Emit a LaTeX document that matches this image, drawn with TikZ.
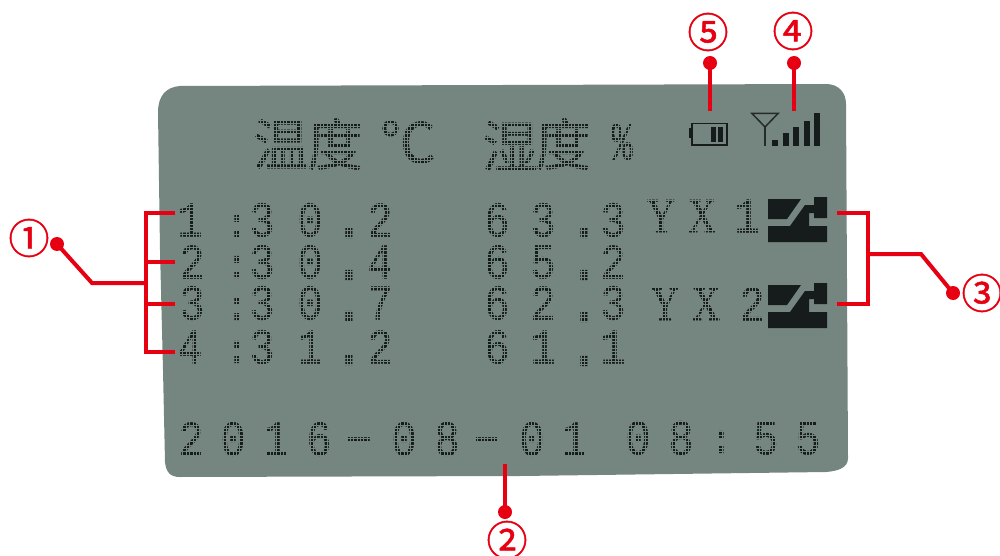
\documentclass[tikz,border=0pt]{standalone}
\usepackage{fontspec}
\setmainfont{Liberation Sans}
\newfontfamily\lcd[FakeStretch=0.84,FakeBold=0.9]{Liberation Mono}
\newfontfamily\lcdheavy[FakeStretch=0.9,FakeBold=2.4]{Liberation Mono}
\newfontfamily\lcdserif[FakeStretch=0.8,FakeBold=0.9]{Liberation Serif}
\newfontfamily\cjk[FakeBold=0.7]{Noto Sans CJK SC}
\newfontfamily\cjkmark[FakeBold=1.2]{Noto Sans CJK SC}
\definecolor{panel}{HTML}{75857F}
\definecolor{ink}{HTML}{161C1B}
\definecolor{mark}{HTML}{E60012}
\newcounter{tn}
\tikzset{
  lcdtext/.style={inner sep=0pt,outer sep=0pt,text=ink,font=\lcd\fontsize{50}{50}\selectfont},
  lcdpoint/.style={inner sep=0pt,outer sep=0pt,text=ink,font=\lcd\fontsize{66}{66}\selectfont},
  lcdcolon/.style={inner sep=0pt,outer sep=0pt,text=ink,font=\lcdheavy\fontsize{40}{40}\selectfont},
  lcdcap/.style={inner sep=0pt,outer sep=0pt,text=ink,font=\lcdserif\fontsize{49}{49}\selectfont},
  cjktext/.style={inner sep=0pt,outer sep=0pt,text=ink,font=\cjk\fontsize{56}{56}\selectfont},
  circled/.style={inner sep=0pt,outer sep=0pt,text=mark,font=\cjkmark\fontsize{41}{41}\selectfont},
  leader/.style={draw=mark,line width=4pt,miter limit=10},
  enddot/.style={circle,fill=mark,inner sep=0pt,minimum size=14pt},
  relay/.style={fill=ink},
  dotgrid/.style={draw=panel,line width=0.5pt}
}
\newcommand{\ch}[3]{\stepcounter{tn}\node[lcdtext] (t\thetn) at (#1,#2) {#3};}
\newcommand{\pt}[3]{\stepcounter{tn}\node[lcdpoint] (t\thetn) at (#1,#2) {#3};}
\newcommand{\cl}[2]{\stepcounter{tn}\node[lcdcolon] (t\thetn) at (#1,#2) {:};}
\newcommand{\cp}[3]{\stepcounter{tn}\node[lcdcap] (t\thetn) at (#1,#2) {#3};}
\newcommand{\ds}[2]{\stepcounter{tn}\node[lcdtext] (t\thetn) at (#1,#2) {\scalebox{1.8}[1]{-}};}
\newcommand{\rowtext}[9]{%
  \ch{#1}{#2}{#3}\cl{237}{#4}\ch{262}{#2}{3}\ch{310}{#2}{#5}%
  \pt{349}{#6}{.}\ch{380}{#2}{#7}\ch{497}{#8}{6}\ch{543}{#8}{#9}}
\newcommand{\relayicon}[2]{%
  \fill[relay,shift={(0,#1)}] (768,199)--(801,199)--(787,219)--(768,219)--cycle;
  \fill[relay,shift={(0,#1)}] (768,226)--(790,226)--(805,205)--(814,205)--(814,197)--(827,197)--(827,218)--(814,218)--(814,213)--(809,213)--(809,226)--(827,226)--(827,242)--(768,242)--cycle;
  \coordinate (#2) at (0,#1);}
\begin{document}
\begin{tikzpicture}[x=1pt,y=-1pt]
\useasboundingbox (0,0) rectangle (1000,556);
% panel
\fill[panel] (158,112) .. controls (158,96) and (166,87) .. (180,86)
  -- (826,84) .. controls (838,84) and (846,92) .. (846,104)
  -- (848,458) .. controls (848,468) and (838,471) .. (826,472)
  -- (520,476) -- (180,477) .. controls (170,477) and (166,472) .. (165,462)
  -- (163,370) -- (160,250) -- cycle;
% header
\node[cjktext] (h1) at (281,144) {温};
\node[cjktext] (h2) at (335,144) {度};
\node[cjktext] (h3) at (408,142) {℃};
\node[cjktext] (h4) at (510,146) {湿};
\node[cjktext] (h5) at (563,144) {度};
\node[inner sep=0pt,text=ink,font=\lcd\fontsize{54}{54}\selectfont] (h6) at (622,142) {\scalebox{.78}[1]{\%}};
% readings
\rowtext{190}{220}{1}{226}{0}{233}{2}{220}{3}
\ch{613}{220}{3}
\rowtext{192}{262}{2}{267}{0}{275}{4}{262}{5}
\pt{584}{233}{.}\pt{584}{275}{.}\ch{613}{262}{2}
\rowtext{192}{303}{3}{309}{0}{316}{7}{303}{2}
\pt{584}{317}{.}\ch{613}{303}{3}
\rowtext{190}{347}{4}{352}{1}{360}{2}{347}{1}
\pt{584}{361}{.}\ch{613}{347}{1}
% relay labels
\cp{661}{216}{Y}\cp{702}{216}{X}\ch{747}{216}{1}
\cp{665}{304}{Y}\cp{706}{304}{X}\ch{752}{304}{2}
% date
\ch{191}{439}{2}\ch{233}{439}{0}\ch{276}{439}{1}\ch{319}{439}{6}\ds{359}{445}
\ch{404}{439}{0}\ch{447}{439}{8}\ds{487}{445}\ch{532}{439}{0}\ch{574}{439}{1}
\ch{638}{438}{0}\ch{681}{438}{8}\cl{721}{442}\ch{766}{438}{5}\ch{808}{438}{5}
% dot-matrix raster over the printed characters
\begin{scope}
\clip (245,110) rectangle (640,178) (176,198) rectangle (632,368)
      (645,195) rectangle (764,325) (176,418) rectangle (826,460);
\foreach \i in {0,...,197} \draw[dotgrid] ({176+3.35*\i},110) -- ({176+3.35*\i},460);
\foreach \i in {0,...,105} \draw[dotgrid] (176,{110+3.35*\i}) -- (826,{110+3.35*\i});
\end{scope}
% relay icons
\relayicon{0}{r1}
\relayicon{86}{r2}
% battery
\draw[ink,line width=1.6pt] (692,123.5) rectangle (727,145);
\fill[ink] (689,128) rectangle (692,138);
\fill[ink] (711,127) rectangle (715.5,142);
\fill[ink] (717.5,127) rectangle (723,142);
% signal
\coordinate (a1) at (752,113.5);
\coordinate (a2) at (778,113.5);
\coordinate (a3) at (765,127);
\coordinate (a4) at (765,146);
\draw[ink!85!panel,line width=1.5pt] (a1) -- (a2) -- (a3) -- cycle;
\draw[ink!85!panel,line width=1.5pt] (a3) -- (a4);
\fill[ink] (772,140) rectangle (778,146);
\fill[ink] (783,133) rectangle (788.5,146);
\fill[ink] (793,127) rectangle (799,146);
\fill[ink] (804,121) rectangle (810,146);
\fill[ink] (814,113) rectangle (820,146);
% callout 1
\node[circled] (n1) at (29,238) {①};
\node[enddot] (d1) at (57,244) {};
\coordinate (b1a) at (175,213);
\coordinate (b1b) at (146,213);
\coordinate (b1c) at (146,352);
\coordinate (b1d) at (175,352);
\coordinate (b1e) at (146,283);
\coordinate (b1f) at (92,283);
\coordinate (b1g) at (146,262);
\coordinate (b1h) at (175,262);
\coordinate (b1i) at (146,304);
\coordinate (b1j) at (175,304);
\draw[leader] (b1a) -- (b1b) -- (b1c) -- (b1d);
\draw[leader] (b1g) -- (b1h);
\draw[leader] (b1i) -- (b1j);
\draw[leader] (b1e) -- (b1f) -- (d1.center);
% callout 2
\node[circled] (n2) at (507,540) {②};
\node[enddot] (d2) at (505,512) {};
\coordinate (e2) at (505,464);
\draw[leader] (e2) -- (d2.center);
% callout 3
\node[circled] (n3) at (982,293) {③};
\node[enddot] (d3) at (953,293) {};
\coordinate (b3a) at (837,213);
\coordinate (b3b) at (868,213);
\coordinate (b3c) at (868,304);
\coordinate (b3d) at (837,304);
\coordinate (b3e) at (868,254);
\coordinate (b3f) at (921,254);
\draw[leader] (b3a) -- (b3b) -- (b3c) -- (b3d);
\draw[leader] (b3e) -- (b3f) -- (d3.center);
% callout 4
\node[circled] (n4) at (793,31) {④};
\node[enddot] (d4) at (794,63) {};
\coordinate (e4) at (794,111);
\draw[leader] (e4) -- (d4.center);
% callout 5
\node[circled] (n5) at (708,32) {⑤};
\node[enddot] (d5) at (710,63) {};
\coordinate (e5) at (710,111);
\draw[leader] (e5) -- (d5.center);
\end{tikzpicture}
\end{document}
